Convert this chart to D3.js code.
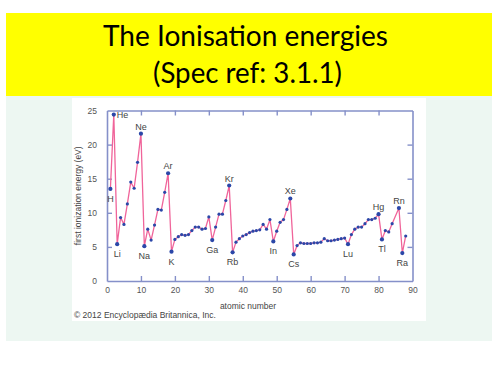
<!DOCTYPE html>
<html>
<head>
<meta charset="utf-8">
<script src="https://cdn.jsdelivr.net/npm/d3@7"></script>
<style>
  html, body { margin: 0; padding: 0; background: #ffffff; }
  svg { display: block; }
</style>
</head>
<body>
<svg id="chart" width="500" height="375"></svg>
<script>
// ---- data ----
const titleLines = ["The Ionisation energies", "(Spec ref: 3.1.1)"];
const atomicNumbers = [1,2,3,4,5,6,7,8,9,10,11,12,13,14,15,16,17,18,19,20,
  21,22,23,24,25,26,27,28,29,30,31,32,33,34,35,36,37,38,39,40,
  41,42,43,44,45,46,47,48,49,50,51,52,53,54,55,56,57,58,59,60,
  61,62,63,64,65,66,67,68,69,70,71,72,73,74,75,76,77,78,79,80,
  81,82,83,84,86,87,88];
const energies = [13.5,24.4,5.4,9.3,8.3,11.3,14.5,13.6,17.4,21.6,5.1,7.6,6.0,8.2,10.5,10.4,13.0,15.8,4.3,6.1,
  6.5,6.8,6.7,6.8,7.4,7.9,7.9,7.6,7.7,9.4,6.0,7.9,9.8,9.8,11.8,14.0,4.2,5.7,6.2,6.6,
  6.8,7.1,7.3,7.4,7.5,8.3,7.6,9.0,5.8,7.3,8.6,9.0,10.5,12.1,3.9,5.2,5.6,5.5,5.5,5.5,
  5.6,5.6,5.7,6.2,5.9,5.9,6.0,6.1,6.2,6.3,5.4,6.8,7.6,7.9,7.9,8.4,9.0,9.0,9.2,9.8,
  6.1,7.4,7.2,8.4,10.7,4.1,6.6];
const labelSymbols = ["H","He","Li","Ne","Na","Ar","K","Ga","Kr","Rb","In","Xe","Cs","Lu","Hg","Tl","Rn","Ra"];
const labelNumbers = [1,2,3,10,11,18,19,31,36,37,49,54,55,71,80,81,86,87];
const labelPlaces  = ["below","right","below","above","below","above","below","below","above","below","below","above","below","below","above","below","above","below"];
const xTicks = [0,10,20,30,40,50,60,70,80,90];
const yTicks = [0,5,10,15,20,25];
const xTitle = "atomic number";
const yTitle = "first ionization energy (eV)";
const credit = "\u00A9 2012 Encyclop\u00E6dia Britannica, Inc.";

// ---- drawing ----
const svg = d3.select("#chart");
svg.append("rect").attr("x",0).attr("y",0).attr("width",500).attr("height",375).attr("fill","#ffffff");
// title box
svg.append("rect").attr("x",6).attr("y",13).attr("width",486).attr("height",83).attr("fill","#ffff00");
const tfont = "Lato, 'Open Sans', sans-serif";
svg.append("text").attr("x",245.5).attr("y",45.5).attr("text-anchor","middle")
  .attr("font-family",tfont).attr("font-size",28).attr("fill","#000")
  .attr("textLength",285).attr("lengthAdjust","spacingAndGlyphs").text(titleLines[0]);
svg.append("text").attr("x",247.5).attr("y",82.5).attr("text-anchor","middle")
  .attr("font-family",tfont).attr("font-size",28).attr("fill","#000")
  .attr("textLength",189).attr("lengthAdjust","spacingAndGlyphs").text(titleLines[1]);
// panels
svg.append("rect").attr("x",6).attr("y",96).attr("width",486).attr("height",245).attr("fill","#edf7f2");
svg.append("rect").attr("x",72).attr("y",98).attr("width",354).attr("height",223).attr("fill","#ffffff");

const x = d3.scaleLinear().domain([0,90]).range([107,412.5]);
const y = d3.scaleLinear().domain([0,25]).range([281,110.5]);

const axisColor = "#8590c9";
const tickColor = "#555";
const tickFont = "'Liberation Sans', Arial, sans-serif";

function styleAxis(g, showText) {
  g.select(".domain").attr("stroke", axisColor).attr("stroke-width", 1.6);
  g.selectAll(".tick line").attr("stroke", axisColor).attr("stroke-width", 1.4)
    .attr("opacity", d => (d === 0 || d === 90 || d === 25) ? 0 : 1);
  g.selectAll(".tick text").attr("fill", tickColor).attr("font-family", tickFont).attr("font-size", 8.5)
    .style("display", showText ? null : "none");
}

svg.append("g").attr("transform",`translate(0,${y(0)})`)
  .call(d3.axisBottom(x).tickValues(xTicks).tickSizeInner(-5).tickSizeOuter(0).tickPadding(6))
  .call(g => styleAxis(g, true));
svg.append("g").attr("transform",`translate(0,${y(25)})`)
  .call(d3.axisTop(x).tickValues(xTicks).tickSizeInner(-5).tickSizeOuter(0))
  .call(g => styleAxis(g, false));
svg.append("g").attr("transform",`translate(${x(0)},0)`)
  .call(d3.axisLeft(y).tickValues(yTicks).tickSizeInner(-5).tickSizeOuter(0).tickPadding(10))
  .call(g => styleAxis(g, true));
svg.append("g").attr("transform",`translate(${x(90)},0)`)
  .call(d3.axisRight(y).tickValues(yTicks).tickSizeInner(-5).tickSizeOuter(0))
  .call(g => styleAxis(g, false));

svg.selectAll(".domain").attr("fill","none");

// axis titles
svg.append("text").attr("x",248).attr("y",308.5).attr("text-anchor","middle")
  .attr("font-family",tickFont).attr("font-size",8.5).attr("fill","#444").text(xTitle);
svg.append("text").attr("transform",`translate(81,${(y(0)+y(25))/2}) rotate(-90)`).attr("text-anchor","middle")
  .attr("font-family",tickFont).attr("font-size",8.5).attr("fill","#444").text(yTitle);
svg.append("text").attr("x",74).attr("y",318).attr("font-family",tickFont).attr("font-size",8.5)
  .attr("fill","#444").text(credit);

// data
const pts = atomicNumbers.map((z,i) => ({z, e: energies[i]}));
const line = d3.line().x(d => x(d.z)).y(d => y(d.e));
svg.append("path").datum(pts).attr("d", line).attr("fill","none")
  .attr("stroke","#f0649a").attr("stroke-width",1.3).attr("stroke-linejoin","round");

const labeled = new Set(labelNumbers);
svg.selectAll("circle.pt").data(pts).join("circle").attr("class","pt")
  .attr("cx", d => x(d.z)).attr("cy", d => y(d.e))
  .attr("r", d => labeled.has(d.z) ? 2.1 : 1.6)
  .attr("fill","#2b47a8");

const labs = labelSymbols.map((s,i) => {
  const z = labelNumbers[i];
  const p = pts.find(d => d.z === z);
  return {s, z, e: p.e, place: labelPlaces[i]};
});
svg.selectAll("text.lab").data(labs).join("text").attr("class","lab")
  .attr("x", d => d.place === "right" ? x(d.z) + 3 : x(d.z))
  .attr("y", d => d.place === "above" ? y(d.e) - 4 : d.place === "below" ? y(d.e) + 13 : y(d.e) + 3.5)
  .attr("text-anchor", d => d.place === "right" ? "start" : "middle")
  .attr("font-family", tickFont).attr("font-size", 9).attr("fill", "#444")
  .text(d => d.s);
</script>
</body>
</html>
